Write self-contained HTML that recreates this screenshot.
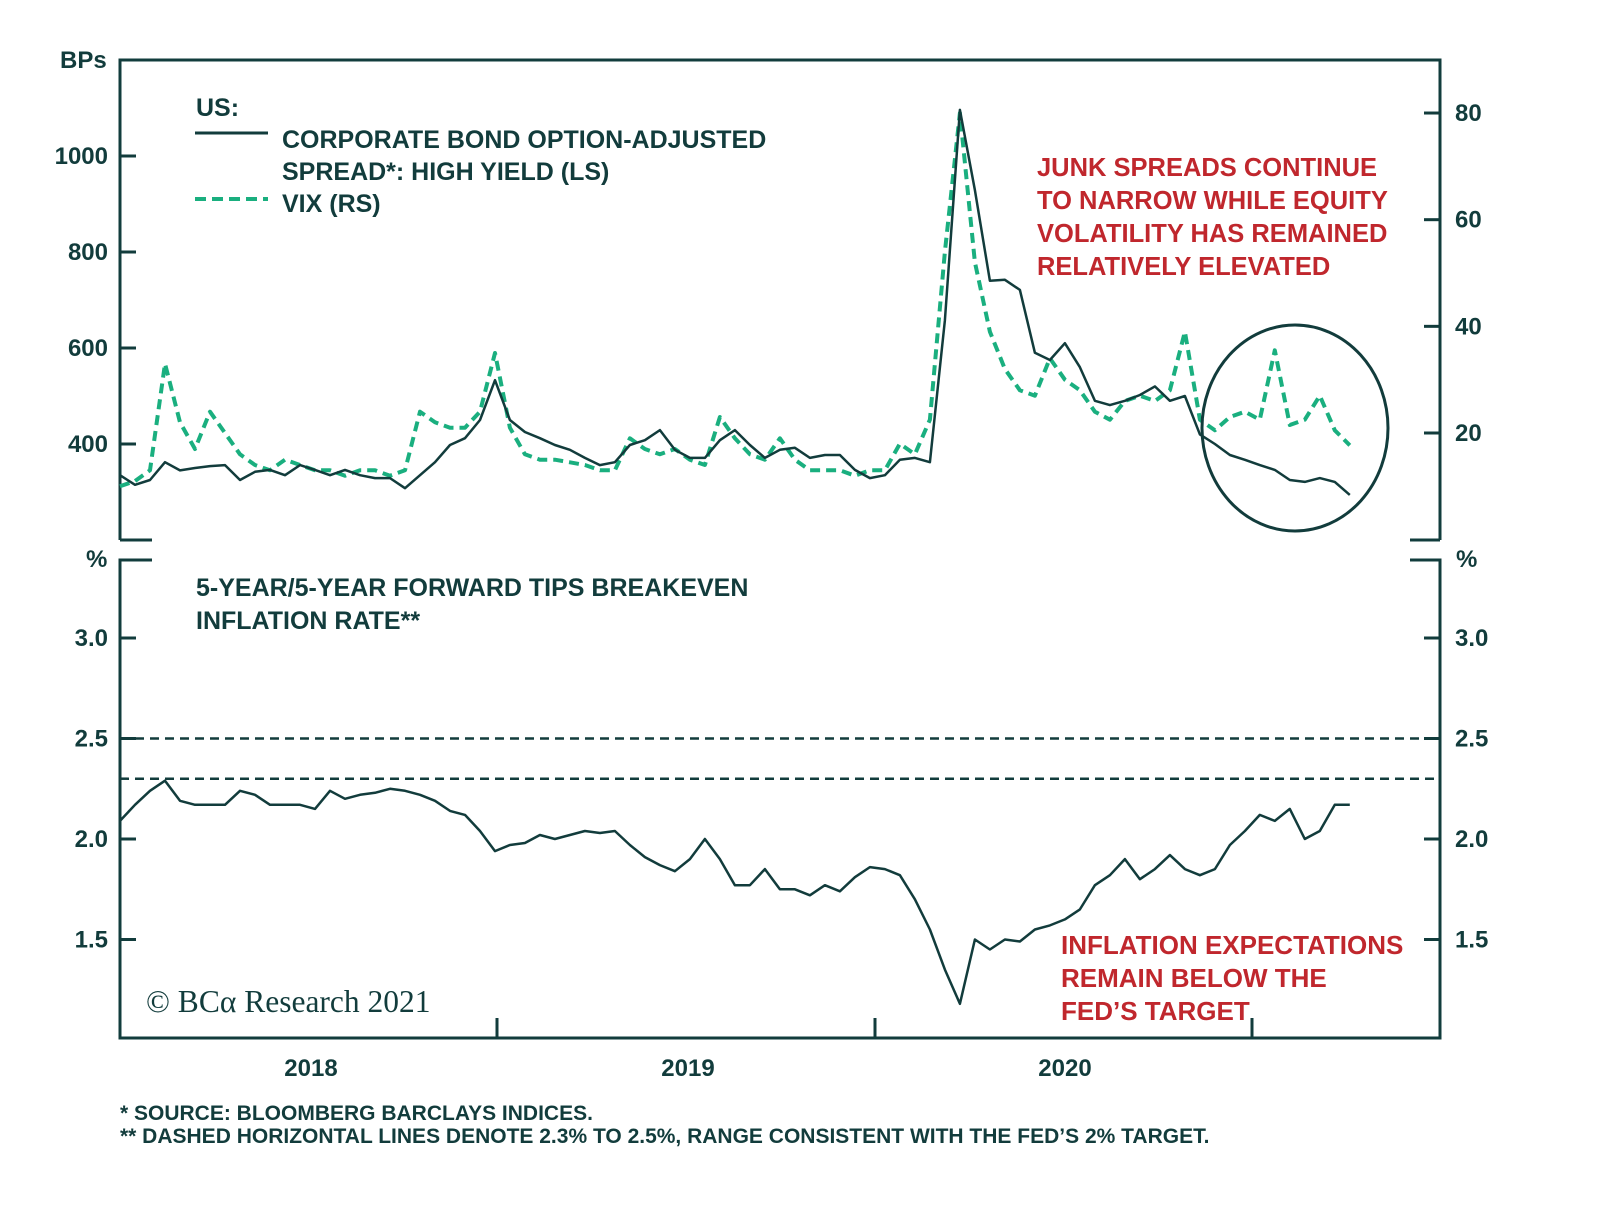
<!DOCTYPE html>
<html><head><meta charset="utf-8"><style>
body{margin:0;background:#fff;}
svg{display:block;font-family:"Liberation Sans",sans-serif;font-weight:bold;}
</style></head><body>
<svg width="1600" height="1218" viewBox="0 0 1600 1218">
<g id="frame" stroke="#123c3c" stroke-width="3" fill="none">
<path d="M120,540 V60 H1440 V540"/>
<path d="M120,540 H152 M1440,540 H1410"/>
<path d="M152,560 H120 V1038 H1440 V560 H1410"/>
<path d="M497,1038 V1018 M875,1038 V1018 M1252,1038 V1018"/>
</g>
<g id="ticks" stroke="#123c3c" stroke-width="3"></g>
<g id="ticklabels" fill="#123c3c" font-size="24"></g>
<text x="60" y="68" font-size="24" fill="#123c3c">BPs</text>
<text x="86" y="567" font-size="24" fill="#123c3c">%</text>
<text x="1456" y="567" font-size="24" fill="#123c3c">%</text>
<g fill="#123c3c" font-size="24">
<text x="311" y="1076" text-anchor="middle">2018</text>
<text x="688" y="1076" text-anchor="middle">2019</text>
<text x="1065" y="1076" text-anchor="middle">2020</text>
</g>
<g fill="#123c3c" font-size="25">
<text x="196" y="116">US:</text>
<line x1="195" y1="133" x2="268" y2="133" stroke="#123c3c" stroke-width="3"/>
<text x="282" y="148">CORPORATE BOND OPTION-ADJUSTED</text>
<text x="282" y="180">SPREAD*: HIGH YIELD (LS)</text>
<line x1="195" y1="199" x2="268" y2="199" stroke="#1aaf7f" stroke-width="4" stroke-dasharray="11,6"/>
<text x="282" y="212">VIX (RS)</text>
</g>
<g fill="#c0272d" font-size="25.5">
<text x="1037" y="176">JUNK SPREADS CONTINUE</text>
<text x="1037" y="209">TO NARROW WHILE EQUITY</text>
<text x="1037" y="242">VOLATILITY HAS REMAINED</text>
<text x="1037" y="275">RELATIVELY ELEVATED</text>
</g>
<g fill="#123c3c" font-size="25">
<text x="196" y="596">5-YEAR/5-YEAR FORWARD TIPS BREAKEVEN</text>
<text x="196" y="629">INFLATION RATE**</text>
</g>
<g fill="#c0272d" font-size="26">
<text x="1061" y="954">INFLATION EXPECTATIONS</text>
<text x="1061" y="987">REMAIN BELOW THE</text>
<text x="1061" y="1020">FED’S TARGET</text>
</g>
<text x="146" y="1012" font-family="Liberation Serif,serif" font-weight="normal" font-size="31.5" fill="#123c3c">© BCα Research 2021</text>
<g fill="#123c3c" font-size="21">
<text x="120" y="1120">*  SOURCE: BLOOMBERG BARCLAYS INDICES.</text>
<text x="120" y="1143">** DASHED HORIZONTAL LINES DENOTE 2.3% TO 2.5%, RANGE CONSISTENT WITH THE FED’S 2% TARGET.</text>
</g>
<g id="series"></g>
<ellipse cx="1295" cy="428" rx="93" ry="103" fill="none" stroke="#123c3c" stroke-width="3"/>
</svg>
<script>
const hyValues=[335,315,325,362,345,350,354,356,325,342,346,335,356,346,335,346,335,329,329,308,335,362,398,412,450,533,450,425,412,398,388,371,356,362,398,408,429,388,371,371,408,429,398,371,388,392,371,377,377,346,329,335,367,371,362,658,1096,929,740,742,721,590,575,610,560,490,481,490,502,520,490,500,420,400,377,367,356,346,325,321,329,321,294];
const vixValues=[10,11,13,33,22,17,24,20,16,14,13,15,14,13,13,12,13,13,12,13,24,22,21,21,24,35,21,16,15,15,14.5,14,13,13,19,17,16,17,15,14,23,19,16,15,19,15,13,13,13,12,13,13,18,16,22.5,54,80,52,39,32,28,27,34,30,28,24,22.5,26,27,26,28,39,22.5,20.5,23,24,22.5,35.5,21.5,22.5,27,20.5,17.7];
const beValues=[2.09,2.17,2.24,2.29,2.19,2.17,2.17,2.17,2.24,2.22,2.17,2.17,2.17,2.15,2.24,2.20,2.22,2.23,2.25,2.24,2.22,2.19,2.14,2.12,2.04,1.94,1.97,1.98,2.02,2.0,2.02,2.04,2.03,2.04,1.97,1.91,1.87,1.84,1.90,2.0,1.90,1.77,1.77,1.85,1.75,1.75,1.72,1.77,1.74,1.81,1.86,1.85,1.82,1.70,1.55,1.35,1.18,1.50,1.45,1.50,1.49,1.55,1.57,1.60,1.65,1.77,1.82,1.90,1.80,1.85,1.92,1.85,1.82,1.85,1.97,2.04,2.12,2.09,2.15,2.0,2.04,2.17,2.17];
const leftTopTicks=[400,600,800,1000];
const rightTopTicks=[20,40,60,80];
const bottomTicks=[1.5,2.0,2.5,3.0];
const targetBand=[2.3,2.5];
const startYear=2018, stepYears=1/25.17;

const NS="http://www.w3.org/2000/svg";
const xS=t=>120+(t-2018)*377.5;
const yHY=v=>156+(1000-v)*0.48;
const yVIX=v=>433-(v-20)*5.333;
const yBE=v=>839-(v-2)*201;
function mk(tag,attrs,parent){const e=document.createElementNS(NS,tag);for(const k in attrs)e.setAttribute(k,attrs[k]);parent.appendChild(e);return e;}
const tk=document.getElementById('ticks'),tl=document.getElementById('ticklabels'),sr=document.getElementById('series');
leftTopTicks.forEach(v=>{const y=yHY(v);
 const l=mk('line',{x1:120,x2:136,y1:y,y2:y},tk);
 
 
 const t=mk('text',{x:108,y:y+8,'text-anchor':'end'},tl);t.textContent=v;
 
 });
rightTopTicks.forEach(v=>{const y=yVIX(v);
 const l=mk('line',{x1:1424,x2:1440,y1:y,y2:y},tk);
 
 
 const t=mk('text',{x:1455,y:y+8},tl);t.textContent=v;
 
 });
bottomTicks.forEach(v=>{const y=yBE(v);
 const l=mk('line',{x1:120,x2:136,y1:y,y2:y},tk);
 
 
 const l2=mk('line',{x1:1424,x2:1440,y1:y,y2:y},tk);
 
 
 const t=mk('text',{x:108,y:y+8,'text-anchor':'end'},tl);t.textContent=v.toFixed(1);
 
 
 const t2=mk('text',{x:1455,y:y+8},tl);t2.textContent=v.toFixed(1);
 
 });
targetBand.forEach(v=>{const y=yBE(v);
 const l=mk('line',{x1:120,x2:1440,y1:y,y2:y,stroke:'#123c3c','stroke-width':2.5,'stroke-dasharray':'9,6'},sr);
 
 });
function path(vals,ys){return vals.map((v,i)=>(i?'L':'M')+xS(startYear+i*stepYears).toFixed(1)+','+ys(v).toFixed(1)).join(' ');}
const vix=mk('path',{d:path(vixValues,yVIX),fill:'none',stroke:'#1aaf7f','stroke-width':4,'stroke-dasharray':'10,6','stroke-linejoin':'round'},sr);


const hy=mk('path',{d:path(hyValues,yHY),fill:'none',stroke:'#123c3c','stroke-width':2.5,'stroke-linejoin':'round'},sr);


const be=mk('path',{d:path(beValues,yBE),fill:'none',stroke:'#123c3c','stroke-width':2.5,'stroke-linejoin':'round'},sr);


</script>
</body></html>
